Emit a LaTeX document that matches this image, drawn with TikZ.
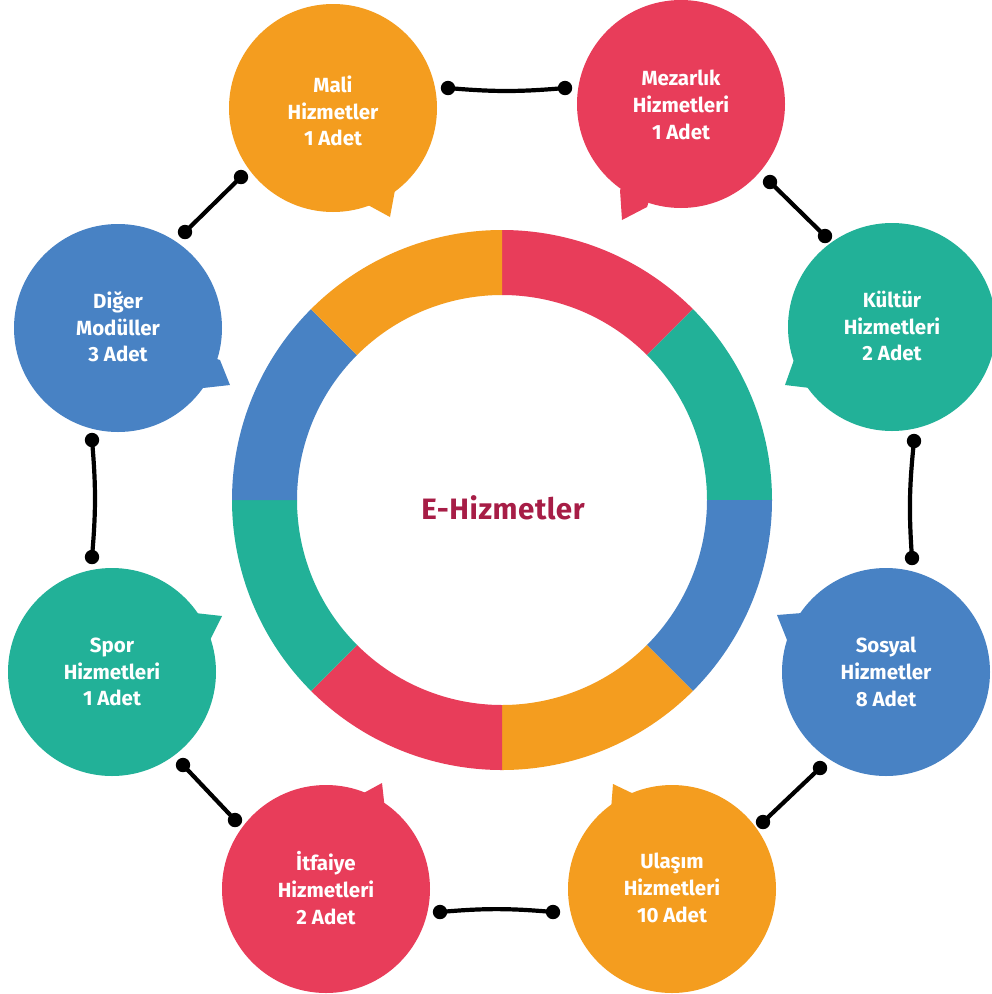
\documentclass[tikz,border=0pt]{standalone}
\usepackage{fontspec}
\setmainfont{Fira Sans}
\newfontfamily\centerfont{Fira Sans}[LetterSpace=2]
\definecolor{cOr}{HTML}{F49D1F}
\definecolor{cRd}{HTML}{E83D5A}
\definecolor{cGr}{HTML}{22B198}
\definecolor{cBl}{HTML}{4882C4}
\definecolor{cTx}{HTML}{A71D46}
\tikzset{
  bubble/.style={circle, minimum size=208pt, inner sep=0pt},
  btext/.style={text=white, align=center, font=\fontsize{20.5}{26.7}\selectfont\bfseries},
  conn/.style={line width=4.2pt, black},
  blob/.style={fill=black}
}
\newcommand\ringseg[3]{%
  \fill[#3] ($(R)+(#1:270)$) arc[start angle=#1, end angle=#2, radius=270]
    -- ($(R)+(#2:205)$) arc[start angle=#2, end angle=#1, radius=205] -- cycle;}
\usetikzlibrary{calc}
\begin{document}
\begin{tikzpicture}[x=1pt, y=-1pt]
\useasboundingbox (0,0) rectangle (992,994);
\fill[white] (0,0) rectangle (992,994);
\coordinate (R) at (502,500);
% ring (angles flipped because y points down)
\ringseg{-90}{-45}{cRd}
\ringseg{-45}{0}{cGr}
\ringseg{0}{45}{cBl}
\ringseg{45}{90}{cOr}
\ringseg{90}{135}{cRd}
\ringseg{135}{180}{cGr}
\ringseg{180}{225}{cBl}
\ringseg{225}{270}{cOr}
\node[text=cTx, font=\centerfont\fontsize{29.5}{31}\selectfont\bfseries] (center) at (503,508) {E-Hizmetler};
% tails
\fill[cOr] (333,108) -- (368,205) -- (390,217) -- (395,190) -- cycle;
\fill[cRd] (681,104) -- (620,190) -- (622,220) -- (647,207) -- cycle;
\fill[cGr] (892,327) -- (795,357) -- (785,385) -- (810,388) -- cycle;
\fill[cBl] (886,672) -- (802,613) -- (777,615) -- (787,640) -- cycle;
\fill[cOr] (672,889) -- (636,795) -- (613,784) -- (611,810) -- cycle;
\fill[cRd] (326,889) -- (360,795) -- (382,783) -- (385,810) -- cycle;
\fill[cGr] (112,672) -- (195,613) -- (222,616) -- (210,640) -- cycle;
\fill[cBl] (118,328) -- (220,360) -- (230,385) -- (203,388) -- cycle;
% bubbles
\node[bubble, fill=cOr] (mali) at (333,108) {};
\node[bubble, fill=cRd] (mezar) at (681,104) {};
\node[bubble, fill=cGr] (kultur) at (892,327) {};
\node[bubble, fill=cBl] (sosyal) at (886,672) {};
\node[bubble, fill=cOr] (ulasim) at (672,889) {};
\node[bubble, fill=cRd] (itfaiye) at (326,889) {};
\node[bubble, fill=cGr] (spor) at (112,672) {};
\node[bubble, fill=cBl] (diger) at (118,328) {};
\node[btext] (maliT) at (333,111) {Mali\\Hizmetler\\1 Adet};
\node[btext] (mezarT) at (681,105) {Mezarlık\\Hizmetleri\\1 Adet};
\node[btext] (kulturT) at (892,326) {Kültür\\Hizmetleri\\2 Adet};
\node[btext] (sosyalT) at (886,672) {Sosyal\\Hizmetler\\8 Adet};
\node[btext] (ulasimT) at (672,888) {Ulaşım\\Hizmetleri\\10 Adet};
\node[btext] (itfaiyeT) at (326,888) {İtfaiye\\Hizmetleri\\2 Adet};
\node[btext] (sporT) at (112,672) {Spor\\Hizmetleri\\1 Adet};
\node[btext] (digerT) at (118,327) {Diğer\\Modüller\\3 Adet};
% connector end points
\coordinate (a1) at (448,88);  \coordinate (a2) at (565,88);
\coordinate (b1) at (770,182); \coordinate (b2) at (825,236);
\coordinate (c1) at (914,441); \coordinate (c2) at (912,558);
\coordinate (d1) at (820,768); \coordinate (d2) at (763,822);
\coordinate (e1) at (553,912); \coordinate (e2) at (440,912);
\coordinate (f1) at (235,820); \coordinate (f2) at (183,765);
\coordinate (g1) at (92,557);  \coordinate (g2) at (92,440);
\coordinate (h1) at (185,232); \coordinate (h2) at (241,177);
\draw[conn] (a1) to[bend right=5] (a2);
\draw[conn] (b1) -- (b2);
\draw[conn] (c1) to[bend right=5] (c2);
\draw[conn] (d1) -- (d2);
\draw[conn] (e1) to[bend right=5] (e2);
\draw[conn] (f1) -- (f2);
\draw[conn] (g1) to[bend right=5] (g2);
\draw[conn] (h1) -- (h2);
\foreach \p in {a1,a2,b1,b2,c1,c2,d1,d2,e1,e2,f1,f2,g1,g2,h1,h2}
  \fill[blob] (\p) circle[radius=7.2];
\end{tikzpicture}
\end{document}
